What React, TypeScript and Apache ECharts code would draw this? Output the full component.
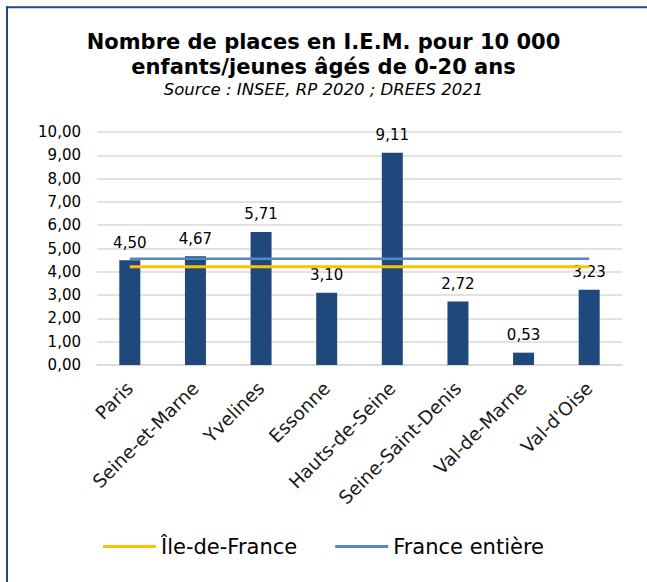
import React, { useEffect, useRef } from "react";
import * as echarts from "echarts";

const categories = [
  "Paris",
  "Seine-et-Marne",
  "Yvelines",
  "Essonne",
  "Hauts-de-Seine",
  "Seine-Saint-Denis",
  "Val-de-Marne",
  "Val-d'Oise",
];
const placesValues = [4.5, 4.67, 5.71, 3.1, 9.11, 2.72, 0.53, 3.23];
const ileDeFranceValue = 4.22;
const franceEntiereValue = 4.56;
const ileDeFranceValues = categories.map(() => ileDeFranceValue);
const franceEntiereValues = categories.map(() => franceEntiereValue);
const yTicks = { min: 0, max: 10, interval: 1 };

const fmt = (v: number) => v.toFixed(2).replace(".", ",");
const FONT = "DejaVu Sans, Verdana, sans-serif";

export default function App() {
  const ref = useRef<HTMLDivElement>(null);
  useEffect(() => {
    if (!ref.current) return;
    const chart = echarts.init(ref.current, undefined, { renderer: "svg" });
    chart.setOption({
      animation: false,
      backgroundColor: "#ffffff",
      textStyle: { fontFamily: FONT, color: "#000" },
      title: [
        {
          text: "Nombre de places en I.E.M. pour 10 000\nenfants/jeunes âgés de 0-20 ans",
          left: "center",
          top: 29,
          padding: [0, 0, 0, 9],
          textStyle: {
            fontFamily: FONT,
            fontSize: 21,
            fontWeight: "bold",
            lineHeight: 25,
            color: "#000",
            align: "center",
          },
        },
        {
          text: "Source : INSEE, RP 2020 ; DREES 2021",
          left: "center",
          top: 81,
          padding: [0, 0, 0, 9],
          textStyle: {
            fontFamily: FONT,
            fontSize: 16.5,
            fontStyle: "italic",
            fontWeight: "normal",
            color: "#000",
          },
        },
      ],
      legend: {
        data: ["Île-de-France", "France entière"],
        left: "center",
        top: 536,
        padding: [0, 0, 0, 28],
        icon: "rect",
        itemWidth: 53,
        itemHeight: 3,
        itemGap: 38,
        textStyle: { fontFamily: FONT, fontSize: 21, color: "#000" },
      },
      grid: { left: 97, right: 25, top: 132, bottom: 217 },
      xAxis: {
        type: "category",
        data: categories,
        axisLine: { show: true, lineStyle: { color: "#D9D9D9", width: 1.5 } },
        axisTick: { show: false },
        axisLabel: {
          rotate: 45,
          interval: 0,
          margin: 20,
          fontFamily: FONT,
          fontSize: 18.5,
          color: "#1a1a1a",
        },
      },
      yAxis: {
        type: "value",
        min: yTicks.min,
        max: yTicks.max,
        interval: yTicks.interval,
        axisLine: { show: false },
        axisTick: { show: false },
        axisLabel: {
          formatter: (v: number) => fmt(v),
          fontFamily: FONT,
          fontSize: 15,
          color: "#000",
          margin: 16,
        },
        splitLine: { lineStyle: { color: "#D9D9D9", width: 1.5 } },
      },
      series: [
        {
          name: "Nombre de places",
          type: "bar",
          data: placesValues,
          barWidth: "32%",
          itemStyle: { color: "#1F497D" },
          label: {
            show: true,
            position: "top",
            distance: 10,
            formatter: (p: any) => fmt(p.value),
            fontFamily: FONT,
            fontSize: 15,
            color: "#000",
          },
          z: 2,
        },
        {
          name: "Île-de-France",
          type: "line",
          data: ileDeFranceValues,
          symbol: "none",
          lineStyle: { color: "#FFC000", width: 3 },
          itemStyle: { color: "#FFC000" },
          z: 3,
        },
        {
          name: "France entière",
          type: "line",
          data: franceEntiereValues,
          symbol: "none",
          lineStyle: { color: "#5585C5", width: 2.5 },
          itemStyle: { color: "#5585C5" },
          z: 3,
        },
      ],
      graphic: [
        {
          type: "line",
          shape: { x1: 7, y1: 6, x2: 7, y2: 582 },
          style: { stroke: "#24487F", lineWidth: 2 },
        },
        {
          type: "line",
          shape: { x1: 6, y1: 7.2, x2: 647, y2: 7.2 },
          style: { stroke: "#24487F", lineWidth: 2 },
        },
      ],
    });
    return () => chart.dispose();
  }, []);
  return (
    <div
      ref={ref}
      style={{ position: "absolute", left: 0, top: 0, width: 647, height: 582 }}
    />
  );
}
